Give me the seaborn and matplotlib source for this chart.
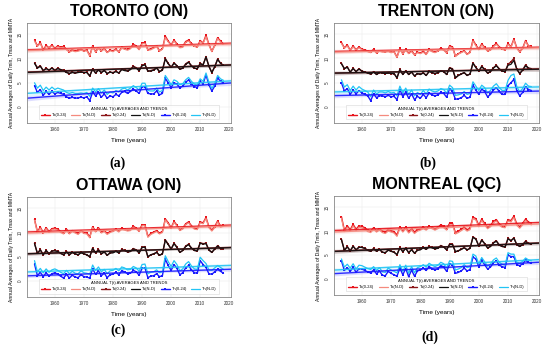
import numpy as np
import pandas as pd
import matplotlib
matplotlib.use("Agg")
import matplotlib.pyplot as plt
import seaborn as sns

years = list(range(1953, 2019))

# ---- TORONTO (ON) ----
tor_tx = [13.8, 12.6, 13.3, 11.8, 12.7, 12.2, 12.8, 12.1, 12.6, 12.3, 12.5,
          11.9, 11.4, 11.8, 11.5, 11.7, 11.9, 11.6, 11.8, 10.6, 12.6, 11.4,
          12.2, 11.6, 12.1, 11.3, 11.7, 11.6, 11.9, 11.4, 12.3, 12.0, 11.9,
          12.2, 12.9, 12.6, 11.9, 13.2, 13.3, 11.8, 12.0, 12.3, 12.6, 11.6,
          12.0, 14.6, 13.6, 12.8, 13.8, 13.0, 12.3, 12.5, 13.5, 13.8, 13.1,
          12.6, 12.4, 13.7, 13.2, 14.8, 12.9, 11.5, 12.7, 14.3, 13.6, 13.0]
tor_tx_nd = [13.6, 12.5, 13.1, 11.7, 12.5, 12.1, 12.6, 12.0, 12.4, 12.2, 12.3,
             11.8, 11.3, 11.6, 11.4, 11.5, 11.7, 11.5, 11.6, 10.5, 12.4, 11.3,
             12.0, 11.5, 11.9, 11.2, 11.6, 11.4, 11.8, 11.3, 12.1, 11.9, 11.7,
             12.0, 12.7, 12.4, 11.8, 13.0, 13.1, 11.7, 11.8, 12.1, 12.4, 11.5,
             11.9, 14.3, 13.4, 12.7, 13.6, 12.8, 12.2, 12.3, 13.3, 13.6, 12.9,
             12.5, 12.3, 13.5, 13.1, 14.5, 12.8, 11.4, 12.6, 14.1, 13.4, 12.9]
tor_ta = [9.1, 8.1, 8.5, 7.5, 8.0, 7.6, 8.1, 7.6, 8.0, 7.7, 7.6,
          7.2, 6.9, 7.2, 7.0, 7.2, 7.3, 7.1, 7.2, 6.4, 7.9, 7.0,
          7.7, 7.1, 7.6, 6.9, 7.2, 7.1, 7.4, 7.0, 7.8, 7.6, 7.5,
          7.8, 8.4, 8.1, 7.5, 8.6, 8.8, 7.4, 7.5, 7.7, 8.1, 7.3,
          7.6, 10.0, 9.0, 8.2, 9.1, 8.5, 7.8, 8.0, 8.9, 9.3, 8.5,
          8.0, 7.9, 9.0, 8.7, 10.4, 8.4, 7.1, 8.3, 9.9, 9.0, 8.6]
tor_ta_nd = [9.0, 8.0, 8.4, 7.5, 7.9, 7.6, 8.0, 7.5, 7.9, 7.7, 7.5,
             7.1, 6.9, 7.1, 7.0, 7.1, 7.2, 7.1, 7.1, 6.4, 7.8, 7.0,
             7.6, 7.1, 7.5, 6.9, 7.2, 7.0, 7.3, 7.0, 7.7, 7.5, 7.4,
             7.7, 8.3, 8.0, 7.5, 8.5, 8.7, 7.4, 7.4, 7.6, 8.0, 7.3,
             7.6, 9.9, 8.9, 8.2, 9.0, 8.5, 7.8, 8.0, 8.8, 9.2, 8.5,
             8.0, 7.9, 8.9, 8.7, 10.3, 8.4, 7.1, 8.3, 9.8, 9.0, 8.6]
tor_tn = [4.4, 3.0, 3.6, 2.4, 3.2, 2.6, 3.2, 2.7, 3.0, 2.8, 2.6,
          2.1, 1.8, 2.0, 1.8, 1.9, 2.0, 1.9, 2.1, 1.3, 3.1, 2.3,
          3.0, 2.0, 2.7, 1.8, 2.3, 2.1, 2.6, 2.3, 3.0, 3.2, 2.8,
          3.2, 3.7, 3.3, 2.8, 4.2, 4.2, 2.8, 2.7, 2.7, 3.3, 2.5,
          2.8, 5.9, 5.0, 4.0, 5.0, 4.7, 4.0, 4.3, 5.1, 5.6, 4.8,
          4.2, 4.0, 5.3, 4.8, 6.6, 4.6, 3.3, 4.3, 6.0, 5.3, 5.0]
tor_tn_nd = [5.0, 3.9, 4.5, 3.4, 4.1, 3.5, 4.1, 3.6, 3.9, 3.7, 3.5,
             3.0, 2.8, 3.0, 2.8, 2.8, 2.9, 2.8, 3.0, 2.2, 3.9, 3.1,
             3.8, 2.9, 3.5, 2.6, 3.1, 2.9, 3.4, 3.1, 3.7, 3.9, 3.5,
             3.9, 4.4, 4.0, 3.5, 4.9, 4.9, 3.4, 3.3, 3.3, 3.9, 3.1,
             3.4, 6.5, 5.6, 4.6, 5.6, 5.3, 4.6, 4.8, 5.6, 6.1, 5.3,
             4.7, 4.5, 5.8, 5.3, 7.0, 5.1, 3.8, 4.8, 6.5, 5.8, 5.5]

# ---- TRENTON (ON) ----
tre_tx = [13.3, 12.2, 12.8, 11.7, 12.6, 11.8, 12.4, 11.9, 11.8, 11.5, 11.3,
          11.9, 11.2, 11.6, 11.5, 11.4, 11.6, 11.3, 11.4, 10.3, 12.1, 11.0,
          11.9, 11.1, 11.6, 10.8, 11.3, 11.1, 11.5, 10.9, 11.9, 11.5, 11.3,
          11.6, 12.1, 11.8, 11.2, 12.6, 12.4, 10.5, 11.0, 11.3, 11.6, 10.9,
          11.3, 13.8, 12.8, 11.9, 13.0, 12.3, 11.6, 11.8, 12.6, 13.1, 12.4,
          12.0, 11.8, 13.1, 12.4, 14.0, 12.2, 11.4, 12.1, 13.7, 12.6, 12.5]
tre_tx_nd = [13.1, 12.1, 12.6, 11.6, 12.4, 11.7, 12.2, 11.8, 11.6, 11.4, 11.2,
             11.7, 11.1, 11.5, 11.3, 11.3, 11.4, 11.2, 11.3, 10.2, 11.9, 10.9,
             11.7, 11.0, 11.4, 10.7, 11.2, 11.0, 11.3, 10.8, 11.7, 11.4, 11.2,
             11.5, 11.9, 11.7, 11.1, 12.4, 12.2, 10.4, 10.9, 11.2, 11.5, 10.8,
             11.2, 13.6, 12.6, 11.8, 12.8, 12.2, 11.5, 11.7, 12.4, 12.9, 12.3,
             11.9, 11.7, 12.9, 12.3, 13.8, 12.1, 11.3, 12.0, 13.5, 12.5, 12.4]
tre_ta = [9.0, 7.9, 8.3, 7.2, 8.0, 7.3, 7.9, 7.4, 7.2, 7.0, 6.8,
          7.3, 6.7, 7.1, 7.0, 6.9, 7.1, 6.9, 6.9, 6.0, 7.8, 6.7,
          7.5, 6.7, 7.2, 6.4, 6.9, 6.7, 7.1, 6.5, 7.4, 7.1, 6.9,
          7.1, 7.5, 7.3, 6.7, 8.1, 7.9, 6.0, 6.5, 6.8, 7.1, 6.5,
          6.8, 9.1, 8.2, 7.4, 8.4, 7.8, 7.0, 7.3, 8.1, 8.6, 7.9,
          7.4, 7.3, 8.8, 9.3, 10.0, 7.8, 6.9, 7.6, 8.7, 8.0, 7.9]
tre_ta_nd = [8.9, 7.9, 8.2, 7.2, 7.9, 7.3, 7.8, 7.4, 7.2, 7.0, 6.8,
             7.2, 6.7, 7.1, 7.0, 6.9, 7.0, 6.9, 6.9, 6.0, 7.7, 6.7,
             7.4, 6.7, 7.2, 6.4, 6.9, 6.7, 7.0, 6.5, 7.3, 7.1, 6.9,
             7.1, 7.4, 7.3, 6.7, 8.0, 7.8, 6.0, 6.5, 6.8, 7.1, 6.5,
             6.8, 9.0, 8.1, 7.4, 8.3, 7.7, 7.0, 7.3, 8.0, 8.5, 7.8,
             7.4, 7.3, 8.6, 8.8, 9.6, 7.8, 6.9, 7.6, 8.5, 8.0, 7.9]
tre_tn = [5.0, 3.3, 3.8, 2.6, 3.5, 2.7, 3.4, 2.9, 2.6, 2.3, 1.3,
          2.7, 1.9, 2.3, 2.3, 2.1, 2.4, 2.1, 2.2, 1.5, 3.6, 2.1,
          3.1, 1.8, 2.7, 1.5, 2.2, 1.8, 2.6, 1.9, 2.9, 2.5, 2.3,
          2.5, 3.0, 2.8, 2.0, 3.8, 3.2, 1.6, 1.7, 1.9, 2.4, 1.8,
          2.0, 4.5, 3.5, 2.6, 3.7, 3.2, 2.1, 2.6, 3.5, 4.0, 3.2,
          2.6, 2.6, 4.4, 5.0, 5.7, 3.4, 2.3, 3.0, 4.2, 3.6, 3.4]
tre_tn_nd = [5.6, 4.1, 4.6, 3.4, 4.3, 3.5, 4.2, 3.7, 3.4, 3.1, 2.1,
             3.5, 2.7, 3.1, 3.1, 2.9, 3.2, 2.9, 3.0, 2.3, 4.3, 2.9,
             3.9, 2.6, 3.5, 2.3, 3.0, 2.6, 3.4, 2.7, 3.7, 3.3, 3.1,
             3.3, 3.8, 3.6, 2.8, 4.5, 4.0, 2.4, 2.5, 2.7, 3.2, 2.6,
             2.8, 5.2, 4.3, 3.4, 4.5, 4.0, 2.9, 3.4, 4.3, 4.8, 4.0,
             3.4, 3.4, 5.5, 6.5, 6.8, 4.2, 3.1, 3.8, 4.9, 4.3, 4.2]

# ---- OTTAWA (ON) ----
ott_tx = [12.7, 10.2, 11.1, 10.0, 11.0, 10.2, 10.8, 10.9, 10.7, 10.2, 9.9,
          10.7, 9.9, 10.4, 10.1, 9.8, 10.4, 10.0, 9.9, 9.1, 11.2, 10.3,
          11.0, 10.1, 10.4, 9.8, 10.2, 10.4, 10.7, 10.3, 10.9, 10.7, 10.5,
          10.6, 11.3, 10.9, 10.4, 11.6, 11.6, 9.2, 9.8, 10.1, 10.4, 9.9,
          10.2, 12.8, 12.0, 11.0, 12.3, 11.5, 10.6, 10.9, 11.8, 12.2, 11.4,
          10.9, 10.8, 12.2, 12.0, 13.1, 11.2, 10.5, 11.2, 12.4, 11.3, 11.5]
ott_tx_nd = [12.5, 10.0, 10.9, 9.8, 10.8, 10.0, 10.6, 10.7, 10.5, 10.0, 9.7,
             10.5, 9.7, 10.2, 9.9, 9.6, 10.2, 9.8, 9.7, 8.9, 11.0, 10.1,
             10.8, 9.9, 10.2, 9.6, 10.0, 10.2, 10.5, 10.1, 10.7, 10.5, 10.3,
             10.4, 11.1, 10.7, 10.2, 11.4, 11.4, 9.0, 9.6, 9.9, 10.2, 9.7,
             10.0, 12.6, 11.8, 10.8, 12.1, 11.3, 10.4, 10.7, 11.6, 12.0, 11.2,
             10.7, 10.6, 12.0, 11.8, 12.9, 11.0, 10.3, 11.0, 12.2, 11.1, 11.3]
ott_ta = [7.8, 5.7, 6.5, 5.4, 6.3, 5.6, 6.2, 6.3, 6.1, 5.7, 5.4,
          6.1, 5.4, 5.9, 5.6, 5.4, 5.9, 5.6, 5.4, 5.0, 6.8, 5.8,
          6.5, 5.6, 6.0, 5.3, 5.8, 5.9, 6.2, 5.8, 6.5, 6.3, 6.0,
          6.1, 6.7, 6.4, 5.8, 7.0, 7.1, 5.0, 5.4, 5.6, 5.9, 5.3,
          5.6, 8.5, 7.6, 6.6, 7.8, 7.0, 5.9, 6.3, 7.2, 7.6, 6.8,
          6.3, 6.2, 7.9, 7.7, 7.8, 6.4, 5.9, 6.6, 7.3, 6.7, 6.7]
ott_ta_nd = [7.7, 5.7, 6.4, 5.4, 6.3, 5.6, 6.2, 6.2, 6.1, 5.7, 5.4,
             6.0, 5.4, 5.9, 5.6, 5.4, 5.8, 5.6, 5.4, 5.0, 6.7, 5.8,
             6.4, 5.6, 6.0, 5.3, 5.8, 5.8, 6.1, 5.8, 6.4, 6.3, 6.0,
             6.1, 6.6, 6.4, 5.8, 6.9, 7.0, 5.0, 5.4, 5.6, 5.9, 5.3,
             5.6, 8.4, 7.5, 6.6, 7.7, 6.9, 5.9, 6.3, 7.1, 7.5, 6.8,
             6.3, 6.2, 7.8, 7.6, 7.7, 6.4, 5.9, 6.6, 7.2, 6.7, 6.7]
ott_tn = [3.5, 1.1, 1.8, 0.9, 1.7, 1.0, 1.5, 1.7, 1.4, 1.0, 0.6,
          1.4, 0.6, 1.2, 0.8, 0.7, 1.3, 0.9, 0.8, 0.6, 2.5, 1.4,
          2.1, 1.1, 1.6, 0.7, 1.3, 1.4, 1.8, 1.3, 2.1, 1.9, 1.5,
          1.6, 2.2, 1.9, 1.2, 2.6, 2.7, 0.7, 1.0, 1.1, 1.5, 0.9,
          1.1, 4.5, 3.2, 2.2, 3.4, 2.6, 1.3, 1.7, 2.7, 3.2, 2.3,
          1.7, 1.6, 4.2, 3.4, 2.8, 1.5, 1.4, 1.9, 2.4, 2.0, 1.6]
ott_tn_nd = [4.2, 1.9, 2.6, 1.7, 2.5, 1.8, 2.3, 2.5, 2.2, 1.8, 1.5,
             2.2, 1.5, 2.0, 1.6, 1.5, 2.1, 1.7, 1.6, 1.4, 3.3, 2.2,
             2.9, 1.9, 2.4, 1.5, 2.1, 2.2, 2.6, 2.1, 2.9, 2.7, 2.3,
             2.4, 3.0, 2.7, 2.0, 3.4, 3.5, 1.5, 1.8, 1.9, 2.3, 1.7,
             1.9, 5.2, 4.0, 3.0, 4.2, 3.4, 2.1, 2.5, 3.5, 4.0, 3.1,
             2.5, 2.4, 4.9, 4.2, 3.6, 2.3, 2.2, 2.7, 3.2, 2.8, 2.4]

# ---- MONTREAL (QC) ----
mtl_tx = [13.0, 10.2, 11.1, 10.3, 11.4, 10.4, 11.1, 11.0, 10.7, 10.2, 10.0,
          10.7, 10.1, 10.5, 10.0, 9.8, 10.3, 10.1, 9.9, 9.2, 10.9, 10.1,
          10.8, 9.9, 10.5, 9.8, 10.3, 10.5, 10.8, 10.5, 11.0, 10.8, 10.5,
          10.8, 11.3, 11.0, 10.5, 11.6, 11.6, 9.7, 10.0, 10.4, 10.8, 10.3,
          10.6, 12.9, 12.6, 11.2, 12.5, 11.6, 10.8, 11.2, 12.0, 12.4, 11.5,
          11.1, 11.0, 12.4, 12.2, 13.1, 11.5, 10.9, 11.6, 12.5, 11.9, 11.6]
mtl_tx_nd = [12.7, 9.9, 10.8, 10.0, 11.1, 10.1, 10.8, 10.7, 10.4, 9.9, 9.7,
             10.4, 9.8, 10.2, 9.7, 9.5, 10.0, 9.8, 9.6, 8.9, 10.6, 9.8,
             10.5, 9.6, 10.2, 9.5, 10.0, 10.2, 10.5, 10.2, 10.7, 10.5, 10.2,
             10.5, 11.0, 10.7, 10.2, 11.3, 11.3, 9.4, 9.7, 10.1, 10.5, 10.0,
             10.3, 12.6, 12.3, 10.9, 12.2, 11.3, 10.5, 10.9, 11.7, 12.1, 11.2,
             10.8, 10.7, 12.1, 11.9, 12.8, 11.2, 10.6, 11.3, 12.2, 11.6, 11.3]
mtl_ta = [8.3, 6.0, 6.8, 5.9, 6.9, 6.1, 6.7, 6.6, 6.4, 6.0, 5.8,
          6.4, 5.8, 6.2, 5.6, 5.5, 6.1, 5.8, 5.6, 5.1, 6.6, 5.7,
          6.5, 5.5, 6.2, 5.4, 6.0, 6.2, 6.6, 6.2, 6.8, 6.6, 6.3,
          6.5, 7.0, 6.7, 6.1, 7.3, 7.3, 5.7, 5.9, 6.2, 6.6, 6.1,
          6.4, 8.8, 8.4, 6.9, 8.2, 7.4, 6.5, 6.8, 7.6, 8.0, 7.1,
          6.8, 6.7, 8.5, 8.0, 8.6, 7.2, 6.8, 7.2, 7.9, 7.5, 7.3]
mtl_ta_nd = [8.2, 6.0, 6.7, 5.9, 6.8, 6.1, 6.6, 6.6, 6.4, 6.0, 5.8,
             6.3, 5.8, 6.2, 5.6, 5.5, 6.0, 5.8, 5.6, 5.1, 6.5, 5.7,
             6.4, 5.5, 6.1, 5.4, 6.0, 6.1, 6.5, 6.2, 6.7, 6.5, 6.3,
             6.4, 6.9, 6.7, 6.1, 7.2, 7.2, 5.7, 5.9, 6.2, 6.5, 6.1,
             6.4, 8.7, 8.3, 6.9, 8.1, 7.4, 6.5, 6.8, 7.5, 7.9, 7.1,
             6.8, 6.7, 8.4, 8.0, 8.5, 7.2, 6.8, 7.2, 7.8, 7.4, 7.3]
mtl_tn = [3.8, 1.8, 2.4, 1.6, 2.5, 1.4, 2.2, 2.1, 1.8, 1.5, 1.3,
          1.9, 1.1, 1.7, 0.8, 0.7, 1.6, 1.2, 0.9, 0.6, 2.3, 0.9,
          2.2, 0.5, 1.9, 0.6, 1.7, 1.9, 2.3, 1.8, 2.6, 2.2, 1.9,
          2.2, 2.8, 2.5, 1.6, 3.1, 3.0, 1.2, 1.4, 1.7, 2.3, 1.7,
          2.0, 4.6, 4.2, 2.6, 3.9, 3.0, 2.1, 2.5, 3.4, 3.8, 2.9,
          2.6, 2.4, 5.0, 4.7, 4.7, 3.0, 2.8, 3.2, 3.9, 3.5, 3.3]
mtl_tn_nd = [4.2, 2.5, 3.1, 2.3, 3.2, 2.1, 2.9, 2.8, 2.5, 2.2, 2.0,
             2.6, 1.8, 2.4, 1.5, 1.4, 2.3, 1.9, 1.6, 1.3, 3.0, 1.6,
             2.9, 1.2, 2.6, 1.3, 2.4, 2.6, 3.0, 2.5, 3.3, 2.9, 2.6,
             2.9, 3.5, 3.2, 2.3, 3.8, 3.7, 1.9, 2.1, 2.4, 3.0, 2.4,
             2.6, 5.2, 4.8, 3.2, 4.5, 3.6, 2.7, 3.1, 4.0, 4.4, 3.5,
             3.1, 2.9, 5.5, 5.2, 5.2, 3.5, 3.3, 3.7, 4.4, 4.0, 3.8]

stations = ["TORONTO (ON)", "TRENTON (ON)", "OTTAWA (ON)", "MONTREAL (QC)"]
panel_tags = ["(a)", "(b)", "(c)", "(d)"]
series_names = ["Tx(0-24)", "Tx(N-D)", "Ta(0-24)", "Ta(N-D)", "Tn(0-24)", "Tn(N-D)"]
station_data = [
    [tor_tx, tor_tx_nd, tor_ta, tor_ta_nd, tor_tn, tor_tn_nd],
    [tre_tx, tre_tx_nd, tre_ta, tre_ta_nd, tre_tn, tre_tn_nd],
    [ott_tx, ott_tx_nd, ott_ta, ott_ta_nd, ott_tn, ott_tn_nd],
    [mtl_tx, mtl_tx_nd, mtl_ta, mtl_ta_nd, mtl_tn, mtl_tn_nd],
]

colors = ["#e8141c", "#f58a7e", "#8b1518", "#111111", "#1a1aff", "#22c4f4"]
markers = ["s", None, "s", None, "s", None]
widths = [1.0, 0.9, 1.0, 0.9, 1.0, 0.9]

sns.set_style("white")
plt.rcParams["font.family"] = ["Liberation Sans", "DejaVu Sans"]
plt.rcParams["text.color"] = "black"
plt.rcParams["axes.labelcolor"] = "black"

fig = plt.figure(figsize=(5.5, 3.47), dpi=100)

# axes boxes [left, bottom, width, height] in figure fractions
boxes = [
    [0.049, 0.6455, 0.371, 0.288],
    [0.607, 0.6455, 0.373, 0.288],
    [0.049, 0.144, 0.371, 0.288],
    [0.607, 0.150, 0.373, 0.285],
]
# where the (a)..(d) tags sit, in pixels from the top-left
tag_x = [118, 428, 118, 430]
tag_y = [163, 163, 330, 337]

for k in range(4):
    ax = fig.add_axes(boxes[k])
    ax.set_xlim(1950.4, 2020.6)
    ax.set_ylim(-3.3, 17.3)
    vals = station_data[k]
    for i in range(6):
        df = pd.DataFrame({"year": years, "T": vals[i]})
        sns.lineplot(data=df, x="year", y="T", ax=ax, color=colors[i],
                     lw=widths[i], marker=markers[i], markersize=2.1,
                     markeredgewidth=0, label=series_names[i])
    for i in range(6):
        df = pd.DataFrame({"year": years, "T": vals[i]})
        sns.regplot(data=df, x="year", y="T", ax=ax, scatter=False,
                    truncate=False, ci=95, n_boot=200, seed=3,
                    color=colors[i], line_kws={"lw": 1.0, "alpha": 0.9})
    ax.set_xlim(1950.4, 2020.6)
    ax.set_ylim(-3.3, 17.3)
    ax.set_xticks([1960, 1970, 1980, 1990, 2000, 2010, 2020])
    ax.set_yticks([0, 5, 10, 15])
    ax.tick_params(labelsize=3.3, length=1.5, width=0.4, pad=1.5, colors="#333333")
    for lab in ax.get_yticklabels():
        lab.set_rotation(90)
        lab.set_va("center")
    ax.grid(True, color="#e6e6e6", lw=0.3)
    for sp in ax.spines.values():
        sp.set_color("#888888")
        sp.set_linewidth(0.6)
    ax.set_xlabel("Time (years)", fontsize=4.6, labelpad=4)
    ax.set_ylabel("Annual Averages of Daily Tmin, Tmax and MMTA", fontsize=3.6, labelpad=3)
    leg = ax.legend(loc="lower center", ncol=6, fontsize=2.9,
                    title="ANNUAL T(t) AVERAGES AND TRENDS", title_fontsize=3.0,
                    frameon=True, handlelength=2.2, handletextpad=0.5,
                    columnspacing=1.1, borderpad=0.6, bbox_to_anchor=(0.5, 0.015))
    leg.get_frame().set_edgecolor("#cccccc")
    leg.get_frame().set_linewidth(0.4)
    ax.set_title(stations[k], fontsize=11.5, fontweight="bold", pad=5, color="black")
    fig.text(tag_x[k] / 550, 1 - tag_y[k] / 347, panel_tags[k],
             family="Liberation Serif", fontweight="bold", fontsize=10,
             ha="center", va="center", color="black")

fig.savefig("out.png", dpi=100)
